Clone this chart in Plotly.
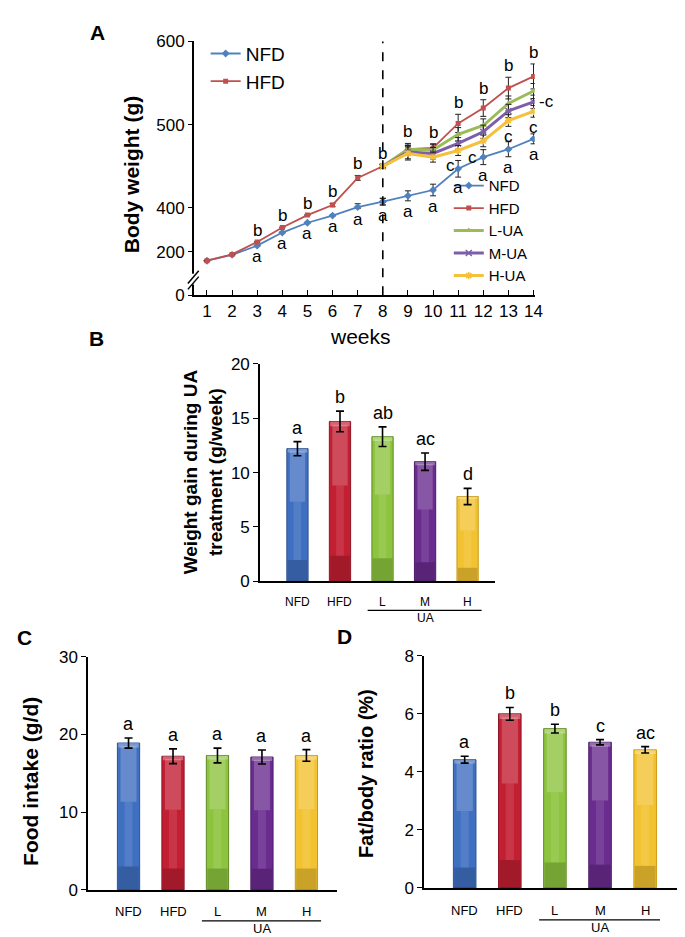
import numpy as np
import plotly.graph_objects as go

W, H = 685, 937

# ---------------- Panel A data (body weight, g) ----------------
weeks = list(range(1, 15))
weeks_pre = list(range(1, 9))
weeks_treat = list(range(8, 15))

nfd_bw = [158, 185, 227, 287, 332, 365, 401, 407.5, 414.5, 421.5, 447, 461, 470.5, 483]
nfd_bw_err = [1, 1, 2, 2, 2, 2, 4, 4, 6, 7, 10, 9, 9, 6]
hfd_bw = [158, 187, 244, 310, 367, 403.5, 436, 450, 470.5, 472, 501.5, 520, 544, 558]
hfd_bw_err = [1, 1, 2, 2, 2, 2, 3, 2, 5, 5, 11, 10, 13, 15]
lua_bw = [450, 470.5, 469.5, 488.5, 499, 525.5, 540.5]
lua_bw_err = [2, 7, 7, 8, 8, 9, 9]
mua_bw = [450, 467, 465.5, 477.5, 491.5, 516.5, 527.5]
mua_bw_err = [2, 8, 7, 7, 8, 8, 8]
hua_bw = [450, 465.5, 461, 469, 480.5, 505, 516]
hua_bw_err = [2, 8, 6, 6, 7, 7, 7]

y_ticks_real = [0, 200, 400, 500, 600]
y_tick_text = ["0", "200", "400", "500", "600"]

# broken axis: real value -> axis coordinate
BREAK_REAL = [0, 200, 400, 600]
BREAK_AXIS = [295.0, 347.5, 400, 600]


def to_axis(v):
    return np.interp(np.asarray(v, dtype=float), BREAK_REAL, BREAK_AXIS)


# ---------------- Panels B-D data ----------------
groups = ["NFD", "HFD", "L", "M", "H"]
gain = [12.2, 14.7, 13.3, 11.0, 7.8]
gain_err = [0.65, 0.95, 0.9, 0.8, 0.75]
gain_letters = ["a", "b", "ab", "ac", "d"]
food = [18.9, 17.2, 17.3, 17.1, 17.3]
food_err = [0.65, 0.95, 0.95, 0.9, 0.75]
food_letters = ["a", "a", "a", "a", "a"]
fat = [4.42, 6.0, 5.49, 5.02, 4.76]
fat_err = [0.12, 0.22, 0.15, 0.09, 0.11]
fat_letters = ["a", "b", "b", "c", "ac"]

FONT = "Arial, Liberation Sans, Helvetica, sans-serif"
line_colors = {"NFD": "#4F81BD", "HFD": "#C0504D", "L-UA": "#9BBB59",
               "M-UA": "#7D5FA8", "H-UA": "#F5C13C"}
bar_colors = ["#3F6FC1", "#C21F33", "#8DC43F", "#6A2C8E", "#F2C230"]
bar_edges = ["#2D528F", "#8E1424", "#5F8A22", "#4B1C66", "#C99A12"]

fig = go.Figure()


def err_arrays(vals, errs):
    v = np.asarray(vals, float)
    e = np.asarray(errs, float)
    plus = to_axis(v + e) - to_axis(v)
    minus = to_axis(v) - to_axis(v - e)
    return plus.tolist(), minus.tolist()


def add_line(x, vals, errs, name, symbol, size, width, legend, mline=0):
    plus, minus = err_arrays(vals, errs)
    fig.add_trace(go.Scatter(
        x=x, y=to_axis(vals).tolist(), mode="lines+markers", name=name,
        legend=legend, xaxis="x", yaxis="y",
        line=dict(color=line_colors[name], width=width),
        marker=dict(symbol=symbol, size=size, color=line_colors[name],
                    line=dict(width=mline, color=line_colors[name])),
        error_y=dict(type="data", symmetric=False, array=plus, arrayminus=minus,
                     color="#222222", thickness=1, width=3),
    ))


# pre-treatment phase (legend 1)
add_line(weeks_pre, nfd_bw[:8], nfd_bw_err[:8], "NFD", "diamond", 6, 1.8, "legend")
add_line(weeks_pre, hfd_bw[:8], hfd_bw_err[:8], "HFD", "square", 5, 1.8, "legend")
# treatment phase (legend 2)
add_line(weeks_treat, nfd_bw[7:], nfd_bw_err[7:], "NFD", "diamond", 6, 1.8, "legend2")
add_line(weeks_treat, hfd_bw[7:], hfd_bw_err[7:], "HFD", "square", 5, 1.8, "legend2")
add_line(weeks_treat, lua_bw, lua_bw_err, "L-UA", "triangle-up", 6, 3, "legend2")
add_line(weeks_treat, mua_bw, mua_bw_err, "M-UA", "x-thin-open", 6, 3, "legend2", 1.5)
add_line(weeks_treat, hua_bw, hua_bw_err, "H-UA", "asterisk-open", 6, 3, "legend2", 1.5)

annotations = []
shapes = []

# significance letters, panel A
all_top = {}
for i, w in enumerate(weeks):
    cands = [hfd_bw[i] + hfd_bw_err[i]]
    if w >= 8:
        j = w - 8
        cands += [lua_bw[j] + lua_bw_err[j], mua_bw[j] + mua_bw_err[j], hua_bw[j] + hua_bw_err[j]]
    all_top[w] = max(cands)
for i, w in enumerate(weeks):
    if w < 3:
        continue
    annotations.append(dict(x=w, y=float(to_axis(all_top[w])), xref="x", yref="y", text="b",
                            showarrow=False, yanchor="bottom", yshift=0,
                            font=dict(size=17, family=FONT, color="black")))
    annotations.append(dict(x=w, y=float(to_axis(nfd_bw[i] - nfd_bw_err[i])), xref="x", yref="y",
                            text="a", showarrow=False, yanchor="top", yshift=1,
                            font=dict(size=17, family=FONT, color="black")))
c_shift = [-8, -11, 0, 0]
for k, w in enumerate(range(11, 15)):
    j = w - 8
    annotations.append(dict(x=w, y=float(to_axis(hua_bw[j] - hua_bw_err[j])), xref="x", yref="y",
                            text="c", showarrow=False, yanchor="top", yshift=1, xshift=c_shift[k],
                            font=dict(size=17, family=FONT, color="black")))
annotations.append(dict(x=14, y=float(to_axis(mua_bw[-1])), xref="x", yref="y", text="-c",
                        showarrow=False, xanchor="left", xshift=3,
                        font=dict(size=17, family=FONT, color="black")))

# dashed line at week 8
shapes.append(dict(type="line", xref="x", yref="y domain", x0=8, x1=8, y0=0, y1=1,
                   line=dict(color="black", width=1.6, dash="dash")))


def px(x):
    return x / W


def py(y):
    return 1 - y / H


# axis break marks on panel A y-axis
shapes.append(dict(type="line", xref="paper", yref="paper", x0=px(188), x1=px(188),
                   y0=py(273), y1=py(262), line=dict(color="white", width=4)))
for off in (0, 6):
    shapes.append(dict(type="line", xref="paper", yref="paper", x0=px(182), x1=px(193),
                       y0=py(272 + off), y1=py(259 + off), line=dict(color="black", width=1.5)))

# ---------------- bar panels ----------------
bar_panels = [
    ("x2", "y2", gain, gain_err, gain_letters, 12, -21, -29, -37),
    ("x3", "y3", food, food_err, food_letters, 13, -22, -31, -39),
    ("x4", "y4", fat, fat_err, fat_letters, 13, -23, -32, -40),
]
xs = list(range(len(groups)))
for xa, ya, vals, errs, letters, cfs, lab_dy, line_dy, ua_dy in bar_panels:
    v = np.asarray(vals, float)
    fig.add_trace(go.Bar(x=xs, y=vals, width=0.5, xaxis=xa, yaxis=ya, showlegend=False,
                         marker=dict(color=bar_colors, line=dict(color=bar_edges, width=1))))
    # glossy decoration
    fig.add_trace(go.Bar(x=xs, y=(0.16 * v).tolist(), base=0, width=0.46, xaxis=xa, yaxis=ya,
                         showlegend=False, hoverinfo="skip",
                         marker=dict(color="rgba(0,0,0,0.16)", line=dict(width=0))))
    fig.add_trace(go.Bar(x=xs, y=(0.38 * v).tolist(), base=(0.6 * v).tolist(), width=0.36,
                         xaxis=xa, yaxis=ya, showlegend=False, hoverinfo="skip",
                         marker=dict(color="rgba(255,255,255,0.2)", line=dict(width=0))))
    fig.add_trace(go.Bar(x=xs, y=(0.44 * v).tolist(), base=(0.16 * v).tolist(), width=0.18,
                         xaxis=xa, yaxis=ya, showlegend=False, hoverinfo="skip",
                         marker=dict(color="rgba(255,255,255,0.1)", line=dict(width=0))))
    fig.add_trace(go.Bar(x=xs, y=(0.03 * v).tolist(), base=(0.97 * v).tolist(), width=0.46,
                         xaxis=xa, yaxis=ya, showlegend=False, hoverinfo="skip",
                         marker=dict(color="rgba(255,255,255,0.3)", line=dict(width=0))))
    fig.add_trace(go.Scatter(x=xs, y=vals, mode="markers", xaxis=xa, yaxis=ya, showlegend=False,
                             marker=dict(size=1, color="rgba(0,0,0,0)"),
                             error_y=dict(type="data", array=errs, color="black",
                                          thickness=1.6, width=4)))
    for i in xs:
        annotations.append(dict(x=i, y=vals[i] + errs[i], xref=xa, yref=ya, text=letters[i],
                                showarrow=False, yanchor="bottom", yshift=2,
                                font=dict(size=18, family=FONT, color="black")))
        annotations.append(dict(x=i, y=0, xref=xa, yref=ya + " domain", text=groups[i],
                                showarrow=False, yanchor="middle", yshift=lab_dy,
                                font=dict(size=cfs, family=FONT, color="black")))
    annotations.append(dict(x=3, y=0, xref=xa, yref=ya + " domain", text="UA",
                            showarrow=False, yanchor="middle", yshift=ua_dy,
                            font=dict(size=cfs, family=FONT, color="black")))
    shapes.append(dict(type="line", xref=xa, yref=ya + " domain", ysizemode="pixel", yanchor=0,
                       x0=1.65, x1=4.33, y0=line_dy, y1=line_dy,
                       line=dict(color="black", width=1.2)))

# ---------------- titles & panel letters ----------------
def ann_paper(x, y, text, size, bold=False, angle=0):
    annotations.append(dict(x=px(x), y=py(y), xref="paper", yref="paper",
                            text=f"<b>{text}</b>" if bold else text, showarrow=False,
                            textangle=angle, xanchor="center", yanchor="middle",
                            font=dict(size=size, family=FONT, color="black")))


ann_paper(125, 161, "Body weight (g)", 21, bold=True, angle=-90)
ann_paper(357, 326, "weeks", 21)
ann_paper(197, 464, "Weight gain during UA<br>treatment (g/week)", 19, bold=True, angle=-90)
ann_paper(22, 780, "Food intake (g/d)", 21, bold=True, angle=-90)
ann_paper(363, 772, "Fat/body ratio (%)", 20, bold=True, angle=-90)
ann_paper(91, 16, "A", 21, bold=True)
ann_paper(90, 328, "B", 21, bold=True)
ann_paper(17, 633, "C", 21, bold=True)
ann_paper(340, 632, "D", 21, bold=True)

axis_common = dict(showline=True, linecolor="black", linewidth=1.6, showgrid=False,
                   zeroline=False, tickcolor="black", tickwidth=1.4,
                   tickfont=dict(size=17, family=FONT, color="black"))

fig.update_layout(
    width=W, height=H, margin=dict(l=0, r=0, t=0, b=0),
    paper_bgcolor="white", plot_bgcolor="white", barmode="overlay",
    font=dict(family=FONT, color="black"),
    xaxis=dict(domain=[px(188), px(533)], range=[0.477, 14.05], tickmode="array",
               tickvals=weeks, ticks="inside", ticklen=5, anchor="y", **axis_common),
    yaxis=dict(domain=[py(284), py(25)], range=[float(to_axis(0)), 600], tickmode="array",
               tickvals=to_axis(y_ticks_real).tolist(), ticktext=y_tick_text,
               ticks="outside", ticklen=4, anchor="x", **axis_common),
    xaxis2=dict(domain=[px(255), px(493)], range=[-0.88, 4.65], showticklabels=False,
                ticks="", anchor="y2", **axis_common),
    yaxis2=dict(domain=[py(576), py(354)], range=[0, 20], dtick=5, ticks="outside",
                ticklen=5, anchor="x2", **axis_common),
    xaxis3=dict(domain=[px(81), px(333)], range=[-0.91, 4.69], showticklabels=False,
                ticks="", anchor="y3", **axis_common),
    yaxis3=dict(domain=[py(891), py(653)], range=[0, 30], dtick=10, ticks="outside",
                ticklen=5, anchor="x3", **axis_common),
    xaxis4=dict(domain=[px(421), px(678)], range=[-0.9, 4.73], showticklabels=False,
                ticks="", anchor="y4", **axis_common),
    yaxis4=dict(domain=[py(889), py(652)], range=[0, 8], dtick=2, ticks="outside",
                ticklen=5, anchor="x4", **axis_common),
    legend=dict(x=px(200), y=py(18), xanchor="left", yanchor="top", bgcolor="rgba(0,0,0,0)",
                font=dict(size=19, family=FONT, color="black"), itemwidth=30,
                tracegroupgap=0),
    legend2=dict(x=px(446), y=py(281), xanchor="left", yanchor="bottom",
                 bgcolor="rgba(0,0,0,0)", font=dict(size=15, family=FONT, color="black"),
                 itemwidth=30, tracegroupgap=0),
    annotations=annotations,
    shapes=shapes,
)

fig.write_html("out.html")
